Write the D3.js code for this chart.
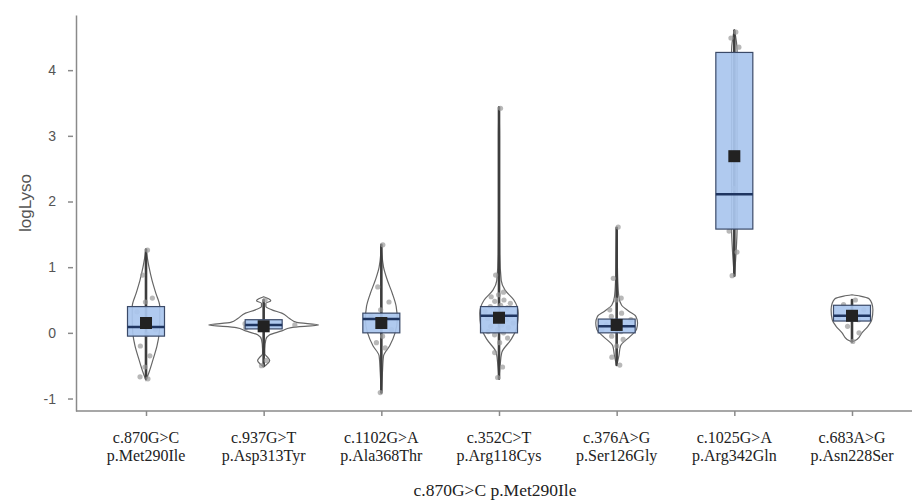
<!DOCTYPE html>
<html>
<head>
<meta charset="utf-8">
<script src="https://cdn.jsdelivr.net/npm/d3@7"></script>
<style>
  html, body { margin: 0; padding: 0; background: #fff; }
  svg { display: block; }
</style>
</head>
<body>
<svg id="chart" width="912" height="503"></svg>
<script>
// Variant labels (cDNA change / protein change)
const cLabels = ["c.870G>C", "c.937G>T", "c.1102G>A", "c.352C>T", "c.376A>G", "c.1025G>A", "c.683A>G"];
const pLabels = ["p.Met290Ile", "p.Asp313Tyr", "p.Ala368Thr", "p.Arg118Cys", "p.Ser126Gly", "p.Arg342Gln", "p.Asn228Ser"];

// Box-plot summaries of logLyso per variant
const q1s     = [-0.05, 0.06, 0.00, 0.00, 0.00, 1.58, 0.18];
const medians = [ 0.09, 0.12, 0.21, 0.26, 0.10, 2.11, 0.26];
const q3s     = [ 0.40, 0.20, 0.30, 0.40, 0.21, 4.27, 0.42];
const means   = [ 0.15, 0.10, 0.15, 0.23, 0.12, 2.69, 0.26];
const lows    = [-0.70, -0.50, -0.91, -0.70, -0.49, 0.87, -0.13];
const highs   = [ 1.27, 0.50, 1.34, 3.43, 1.60, 4.60, 0.50];

// Individual observations per variant
const obs = [
  [1.26, 0.88, 0.53, 0.47, 0.32, 0.2, 0.12, 0.05, -0.02, -0.2, -0.35, -0.52, -0.67, -0.7],
  [0.5, 0.14, 0.12, 0.1, 0.08, -0.42, -0.5],
  [1.34, 0.70, 0.47, 0.35, 0.25, 0.2, 0.1, 0.05, -0.05, -0.15, -0.23, -0.91],
  [3.42, 0.88, 0.62, 0.58, 0.55, 0.5, 0.48, 0.45, 0.42, 0.4, 0.38, 0.35, 0.33, 0.3, 0.28, 0.26, 0.25,
   0.22, 0.2, 0.18, 0.15, 0.12, 0.1, 0.08, 0.05, 0.02, 0.0, -0.03, -0.08, -0.15, -0.3, -0.52, -0.68],
  [1.61, 0.83, 0.53, 0.5, 0.35, 0.3, 0.25, 0.2, 0.15, 0.12, 0.1, 0.08, 0.05, 0.02, -0.05, -0.1, -0.2, -0.37, -0.49],
  [4.58, 4.49, 4.35, 2.2, 1.55, 1.23, 0.87],
  [0.5, 0.43, 0.35, 0.3, 0.25, 0.2, 0.1, 0.0, -0.13]
];

// Relative density profiles [logLyso, density] for the violins
const densities = [
  [[-0.72,0],[-0.6,.055],[-0.4,.13],[-0.2,.2],[0,.24],[0.2,.25],[0.4,.25],[0.6,.18],[0.8,.11],[1.0,.055],[1.27,0]],
  [[-0.52,0],[-0.47,.07],[-0.42,.11],[-0.37,.07],[-0.32,.02],[-0.25,.02],[-0.1,.04],[-0.03,.11],[0.03,.33],
   [0.08,.5],[0.12,1.0],[0.16,.6],[0.22,.47],[0.30,.33],[0.35,.15],[0.40,.04],[0.45,.04],[0.49,.13],[0.52,.09],[0.55,0]],
  [[-0.92,0],[-0.6,.02],[-0.35,.04],[-0.2,.15],[0,.25],[0.2,.29],[0.4,.27],[0.6,.2],[0.8,.11],[1.0,.04],[1.34,0]],
  [[-0.7,0],[-0.5,.02],[-0.3,.05],[-0.1,.22],[0.1,.33],[0.3,.35],[0.5,.27],[0.65,.11],[0.8,.04],[1.2,.015],[2,.01],[3,.01],[3.45,0]],
  [[-0.5,0],[-0.35,.04],[-0.2,.07],[-0.05,.25],[0.05,.36],[0.15,.38],[0.25,.35],[0.33,.22],[0.42,.09],[0.55,.04],[0.8,.02],[1.2,.01],[1.6,0]],
  [[0.85,0],[1.2,.03],[1.6,.05],[2.5,.05],[3.5,.05],[4.3,.05],[4.62,0]],
  [[-0.14,0],[-0.1,.09],[0.0,.18],[0.1,.29],[0.2,.36],[0.35,.38],[0.45,.36],[0.52,.31],[0.56,.15],[0.58,0]]
];

const yTicks = [-1, 0, 1, 2, 3, 4];
const yTitle = "logLyso";
const xTitle = "c.870G>C p.Met290Ile";

const svg = d3.select("#chart");
const idx = d3.range(cLabels.length);

const x = d3.scalePoint().domain(idx).range([146, 852]);
const y = d3.scaleLinear().domain([-1.19, 4.84]).range([411, 15]);
const halfW = d3.scaleLinear().domain([0, 1]).range([0, 55]);

const boxW = 37;
const axisColor = "#8a8a8a";
const textColor = "#555";

// Density lookup (piecewise linear) for jitter spread
function densityAt(profile, v) {
  for (let i = 1; i < profile.length; i++) {
    const a = profile[i - 1], b = profile[i];
    if (v >= a[0] && v <= b[0]) {
      const t = (v - a[0]) / (b[0] - a[0] || 1);
      return a[1] + t * (b[1] - a[1]);
    }
  }
  return 0;
}

// Violins
const violinArea = d3.area()
  .curve(d3.curveMonotoneY)
  .y(d => y(d[0]));

idx.forEach(i => {
  const cx = x(i);
  svg.append("path")
    .datum(densities[i])
    .attr("d", violinArea.x0(d => cx - halfW(d[1])).x1(d => cx + halfW(d[1])))
    .attr("fill", "#ffffff")
    .attr("fill-opacity", 0.4)
    .attr("stroke", "#666")
    .attr("stroke-width", 1.2);
});

// Whiskers
svg.append("g").selectAll("line").data(idx).join("line")
  .attr("x1", i => x(i)).attr("x2", i => x(i))
  .attr("y1", i => y(lows[i])).attr("y2", i => y(highs[i]))
  .attr("stroke", "#3d3d3d")
  .attr("stroke-width", 2.6)
  .attr("stroke-linecap", "round");

// Jittered points
idx.forEach(i => {
  const cx = x(i);
  svg.append("g").selectAll("circle").data(obs[i]).join("circle")
    .attr("cx", (v, k) => {
      const frac = ((k + 1) * 0.618034) % 1;
      const spread = Math.max(halfW(densityAt(densities[i], v)), 8) * 0.8;
      return cx + (frac * 2 - 1) * spread;
    })
    .attr("cy", v => y(v))
    .attr("r", 2.6)
    .attr("fill", "#9a9a9a")
    .attr("fill-opacity", 0.7);
});

// Boxes
svg.append("g").selectAll("rect").data(idx).join("rect")
  .attr("x", i => x(i) - boxW / 2)
  .attr("width", boxW)
  .attr("y", i => y(q3s[i]))
  .attr("height", i => y(q1s[i]) - y(q3s[i]))
  .attr("fill", "#a9c5ee")
  .attr("fill-opacity", 0.92)
  .attr("stroke", "#3b4a68")
  .attr("stroke-width", 1.2);

// Medians
svg.append("g").selectAll("line").data(idx).join("line")
  .attr("x1", i => x(i) - boxW / 2).attr("x2", i => x(i) + boxW / 2)
  .attr("y1", i => y(medians[i])).attr("y2", i => y(medians[i]))
  .attr("stroke", "#1f3560")
  .attr("stroke-width", 2.4);

// Means
const meanSize = 12;
svg.append("g").selectAll("rect").data(idx).join("rect")
  .attr("x", i => x(i) - meanSize / 2)
  .attr("y", i => y(means[i]) - meanSize / 2)
  .attr("width", meanSize).attr("height", meanSize)
  .attr("fill", "#222");

// Y axis
const yAxis = svg.append("g").attr("transform", "translate(76,0)")
  .call(d3.axisLeft(y).tickValues(yTicks).tickFormat(d => String(d))
    .tickSize(6).tickPadding(14).tickSizeOuter(0));
yAxis.select(".domain").attr("stroke", axisColor).attr("stroke-width", 1.5);
yAxis.selectAll(".tick line").attr("stroke", axisColor).attr("stroke-width", 1.5)
  .attr("x1", -3).attr("x2", -8);
yAxis.selectAll(".tick text")
  .attr("fill", textColor)
  .style("font-family", "'Liberation Sans', Arial, sans-serif")
  .style("font-size", "14px");

// X axis
const xAxis = svg.append("g").attr("transform", "translate(0,411)")
  .call(d3.axisBottom(x).tickSize(5).tickSizeOuter(0).tickFormat(() => ""));
xAxis.select(".domain").attr("d", "M76,0H912").attr("stroke", axisColor).attr("stroke-width", 1.5);
xAxis.selectAll(".tick line").attr("stroke", axisColor).attr("stroke-width", 1.5);

const labelG = svg.append("g")
  .style("font-family", "'Liberation Serif', 'Times New Roman', serif")
  .style("font-size", "16px")
  .attr("fill", "#222");
idx.forEach(i => {
  const t = labelG.append("text").attr("text-anchor", "middle");
  t.append("tspan").attr("x", x(i)).attr("y", 443).text(cLabels[i]);
  t.append("tspan").attr("x", x(i)).attr("y", 461).text(pLabels[i]);
});

// Titles
svg.append("text")
  .attr("transform", "translate(31,203) rotate(-90)")
  .attr("text-anchor", "middle")
  .attr("fill", textColor)
  .style("font-family", "'Liberation Sans', Arial, sans-serif")
  .style("font-size", "17px")
  .text(yTitle);

svg.append("text")
  .attr("x", 495).attr("y", 496)
  .attr("text-anchor", "middle")
  .attr("fill", "#222")
  .style("font-family", "'Liberation Serif', 'Times New Roman', serif")
  .style("font-size", "17.5px")
  .text(xTitle);
</script>
</body>
</html>
